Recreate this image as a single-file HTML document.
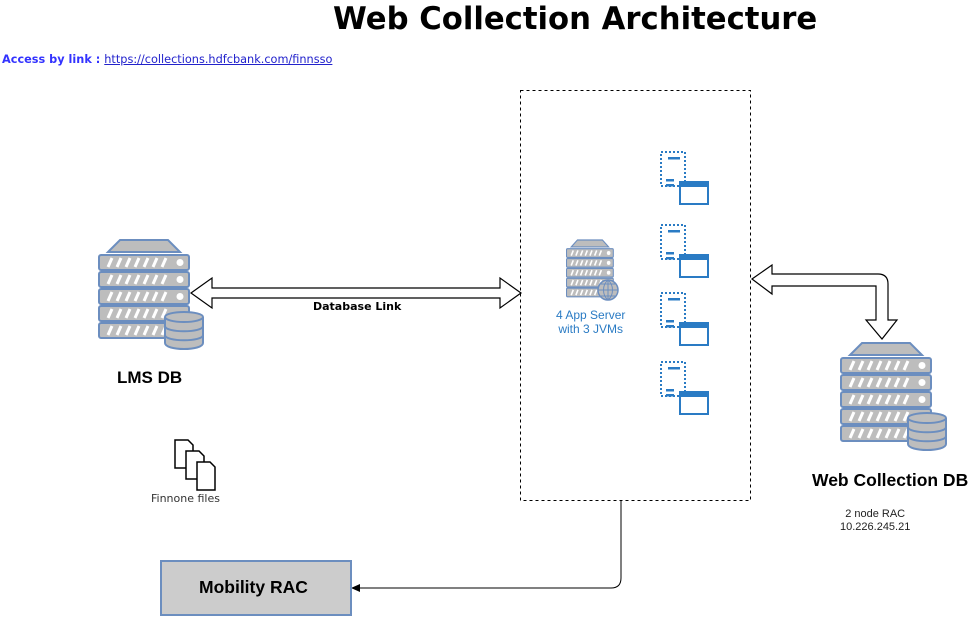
<!DOCTYPE html>
<html><head><meta charset="utf-8"><style>
body{margin:0;width:974px;height:620px;background:#fff;position:relative;overflow:hidden;font-family:"Liberation Sans",sans-serif}
.t{position:absolute;white-space:nowrap}
</style></head><body>
<svg width="974" height="620" style="position:absolute;left:0;top:0">
<defs>
<g id="srv">
<polygon points="10,12 22,0 70,0 82,12" fill="#bdbdbd" stroke="#6c8ebf" stroke-width="2"/>
<g fill="#bdbdbd" stroke="#6c8ebf" stroke-width="2">
<rect x="1" y="15" width="90" height="15" rx="2"/><rect x="1" y="32" width="90" height="15" rx="2"/>
<rect x="1" y="49" width="90" height="15" rx="2"/><rect x="1" y="66" width="90" height="15" rx="2"/>
<rect x="1" y="83" width="90" height="15" rx="2"/></g>
<g stroke="#fff" stroke-width="3">
<path d="M10,27l4,-9M19,27l4,-9M28,27l4,-9M37,27l4,-9M46,27l4,-9M55,27l4,-9M64,27l4,-9"/>
<path d="M10,44l4,-9M19,44l4,-9M28,44l4,-9M37,44l4,-9M46,44l4,-9M55,44l4,-9M64,44l4,-9"/>
<path d="M10,61l4,-9M19,61l4,-9M28,61l4,-9M37,61l4,-9M46,61l4,-9M55,61l4,-9M64,61l4,-9"/>
<path d="M10,78l4,-9M19,78l4,-9M28,78l4,-9M37,78l4,-9M46,78l4,-9M55,78l4,-9M64,78l4,-9"/>
<path d="M10,95l4,-9M19,95l4,-9M28,95l4,-9M37,95l4,-9M46,95l4,-9M55,95l4,-9M64,95l4,-9"/></g>
<g fill="#fff"><circle cx="82" cy="22.5" r="3.5"/><circle cx="82" cy="39.5" r="3.5"/><circle cx="82" cy="56.5" r="3.5"/></g>
</g>
<g id="cyl" fill="#bdbdbd" stroke="#6c8ebf" stroke-width="2">
<path d="M0,6v26c0,8 38,8 38,0v-26"/>
<ellipse cx="19" cy="6" rx="19" ry="5"/>
<path d="M0,15c0,7 38,7 38,0M0,24c0,7 38,7 38,0" fill="none"/>
</g>
<g id="jvm">
<rect x="1" y="1" width="24" height="34" fill="none" stroke="#2a7bc4" stroke-width="2" stroke-dasharray="2,2"/>
<rect x="8" y="6" width="12" height="2.5" fill="#2a7bc4"/>
<rect x="6" y="28" width="8" height="2.5" fill="#2a7bc4"/><rect x="6" y="33" width="8" height="2.5" fill="#2a7bc4"/>
<rect x="20" y="31" width="28" height="22" fill="#fff" stroke="#2a7bc4" stroke-width="2"/>
<rect x="20" y="31" width="28" height="5" fill="#2a7bc4"/>
</g>
</defs>
<rect x="520.5" y="90.5" width="230" height="410" fill="none" stroke="#000" stroke-dasharray="3,3"/>
<use href="#srv" x="98" y="240"/>
<use href="#cyl" x="165" y="311"/>
<use href="#srv" x="840" y="343"/>
<use href="#cyl" x="908" y="412"/>
<use href="#srv" transform="translate(566,240) scale(0.52,0.58)"/>
<circle cx="608" cy="290" r="10" fill="#bdbdbd" stroke="#6c8ebf" stroke-width="1.5"/>
<path d="M598,290h20M608,280v20M601,284h14M601,296h14M608,280c-6,5 -6,15 0,20M608,280c6,5 6,15 0,20" stroke="#6c8ebf" fill="none" stroke-width="1"/>
<use href="#jvm" x="660" y="151"/>
<use href="#jvm" x="660" y="224"/>
<use href="#jvm" x="660" y="292"/>
<use href="#jvm" x="660" y="361"/>
<polygon points="191,293 212,278 212,288 500,288 500,278 521,293 500,308 500,298 212,298 212,308" fill="#fff" stroke="#000" stroke-width="1.2"/>
<path d="M752,279 L772,265 L772,274 L878,274 Q888,274 888,284 L888,320 L897,320 L882,339 L866,320 L876,320 L876,286 L772,286 L772,294 Z" fill="#fff" stroke="#000" stroke-width="1.2"/>
<path d="M621,500 V578 Q621,588 611,588 H358" fill="none" stroke="#000"/>
<polygon points="351,588 360,584 360,592" fill="#000"/>
<rect x="161" y="561" width="190" height="54" fill="#ccc" stroke="#6c8ebf" stroke-width="2"/>
<g fill="#fff" stroke="#000" stroke-width="1.5">
<path d="M175,440h13l5,5v23h-18z"/><path d="M186,451h13l5,5v23h-18z"/><path d="M197,462h13l5,5v23h-18z"/></g>
</svg>
<div class="t" style="left:333px;top:2px;font-size:30.7px;font-weight:bold;font-family:'DejaVu Sans',sans-serif">Web Collection Architecture</div>
<div class="t" style="left:2px;top:53px;font-size:11.3px;font-family:'DejaVu Sans',sans-serif"><b style="color:#3333ff">Access by link : </b><span style="color:#2222cc;text-decoration:underline">https://collections.hdfcbank.com/finnsso</span></div>
<div class="t" style="left:313px;top:300px;font-size:11px;font-weight:bold;font-family:'DejaVu Sans',sans-serif">Database Link</div>
<div class="t" style="left:117px;top:368px;font-size:17px;font-weight:bold">LMS DB</div>
<div class="t" style="left:151px;top:492px;font-size:11px;color:#333;font-family:'DejaVu Sans',sans-serif">Finnone files</div>
<div class="t" style="left:556px;top:308px;font-size:12px;color:#2a7bc4;text-align:center;line-height:14px">4 App Server<br>with 3 JVMs</div>
<div class="t" style="left:812px;top:470px;font-size:17.5px;font-weight:bold">Web Collection DB</div>
<div class="t" style="left:840px;top:508px;font-size:11px;text-align:center;line-height:13px;color:#222">2 node RAC<br>10.226.245.21</div>
<div class="t" style="left:199px;top:577px;font-size:17.5px;font-weight:bold">Mobility RAC</div>
</body></html>
